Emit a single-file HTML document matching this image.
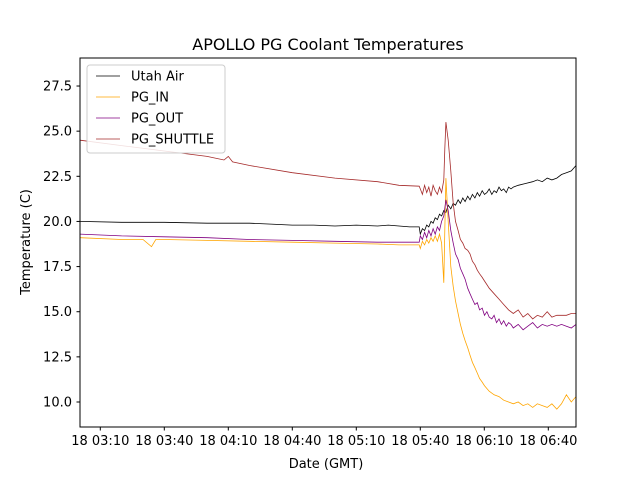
<!DOCTYPE html>
<html><head><meta charset="utf-8"><style>
body{margin:0;background:#fff}
svg{display:block;font-family:"DejaVu Sans","Liberation Sans",sans-serif}
</style></head><body>
<svg id="chart" width="640" height="480">
<rect width="640" height="480" fill="#fff"/>
<text x="328" y="50" text-anchor="middle" font-size="16">APOLLO PG Coolant Temperatures</text>
<g id="plot"></g>
<rect x="80" y="58" width="496" height="369" fill="none" stroke="#000" stroke-width="1"/>
<g id="xticks"></g><g id="yticks"></g>
<text x="326" y="468" text-anchor="middle" font-size="13">Date (GMT)</text>
<text transform="translate(30,242) rotate(-90)" text-anchor="middle" font-size="13">Temperature (C)</text>
<g id="legend">
<rect x="87" y="65" width="138" height="88" rx="3" fill="#fff" fill-opacity="0.85" stroke="#ccc"/>
</g>
</svg>
<script>
const seriesNames=["Utah Air","PG_IN","PG_OUT","PG_SHUTTLE"];
const seriesColors=["#000000","#ffa500","#800080","#a52a2a"];
const xTickLabels=["18 03:10","18 03:40","18 04:10","18 04:40","18 05:10","18 05:40","18 06:10","18 06:40"];
const xTickMinutes=[10,40,70,100,130,160,190,220];
const yTicks=[10.0,12.5,15.0,17.5,20.0,22.5,25.0,27.5];
// minutes since 03:00
const airT=[0.5,20,40,60,80,90,100,110,120,130,140,145,150,155,159.5,160,161,162,163,164,165,166,167,168,169,170,171,172,173.1,174.3,175.4,176.5,177.7,178.8,179.9,181.0,182.2,183.3,184.4,185.6,186.7,187.8,189.0,190.1,191.2,192.3,193.5,194.6,195.7,196.9,198.0,199.1,200.3,201.4,202.5,203.6,205.9,209.3,212.7,214.9,217.2,219.5,221.7,224.0,226.2,228.5,230.8,233.0];
const airV=[20.0,19.95,19.95,19.9,19.9,19.85,19.8,19.8,19.75,19.8,19.75,19.8,19.75,19.7,19.7,19.3,19.6,19.5,19.8,19.7,20.0,19.9,20.2,20.1,20.4,20.3,20.6,20.5,20.9,20.7,21.0,20.9,21.2,21.0,21.3,21.1,21.4,21.2,21.5,21.3,21.6,21.4,21.7,21.5,21.6,21.8,21.5,21.7,21.6,21.9,21.7,21.8,21.6,21.9,21.8,21.9,22.0,22.1,22.2,22.3,22.2,22.4,22.3,22.4,22.6,22.7,22.8,23.1];
const inT=[0.5,20,30,34,36,40,60,80,100,120,140,150,159.5,160,161,162,163,164,165,166,167,168,169,170,171,171.5,172,173.1,174.3,175.4,176.5,177.7,178.8,179.9,181.0,182.2,183.3,184.4,185.6,186.7,187.8,189.0,190.1,192.3,194.6,196.9,199.1,201.4,203.6,205.9,208.2,210.4,212.7,214.9,217.2,219.5,221.7,224.0,226.2,228.5,230.8,233.0];
const inV=[19.1,19.0,19.0,18.6,19.0,19.0,18.95,18.9,18.85,18.8,18.75,18.7,18.7,18.5,18.9,18.7,19.0,18.8,19.1,18.9,19.2,18.9,19.3,18.8,16.6,19.5,22.4,20.0,17.5,16.4,15.6,14.9,14.3,13.8,13.4,13.0,12.6,12.2,11.9,11.6,11.3,11.1,10.9,10.6,10.4,10.3,10.1,10.0,9.9,10.0,9.8,9.9,9.7,9.9,9.8,9.7,9.9,9.6,9.9,10.4,10.0,10.3];
const outT=[0.5,20,40,60,80,100,120,140,159.5,160,161,162,163,164,165,166,167,168,169,170,171,172,173.1,174.3,175.4,176.5,177.7,178.8,179.9,181.0,182.2,183.3,184.4,185.6,186.7,187.8,189.0,190.1,191.2,192.3,193.5,194.6,195.7,196.9,198.0,199.1,200.3,201.4,202.5,203.6,205.9,208.2,210.4,212.7,214.9,217.2,219.5,221.7,224.0,226.2,228.5,230.8,233.0];
const outV=[19.3,19.2,19.15,19.1,19.0,18.95,18.9,18.85,18.85,19.2,19.0,19.4,19.1,19.5,19.2,19.6,19.3,19.7,19.5,20.0,20.3,21.2,20.6,19.5,18.8,18.2,17.9,17.4,17.1,16.8,16.3,16.0,15.7,15.4,15.5,15.1,15.2,14.8,15.0,14.7,14.6,14.8,14.4,14.6,14.3,14.5,14.2,14.4,14.3,14.1,14.3,14.0,14.2,14.4,14.1,14.3,14.2,14.3,14.2,14.3,14.2,14.1,14.3];
const shT=[0.5,20,40,60,68,70,72,80,100,120,140,150,159.5,160,161,162,163,164,165,166,167,168,169,170,171,171.5,172,173.1,174.3,175.4,176.5,177.7,178.8,179.9,181.0,182.2,183.3,184.4,185.6,186.7,187.8,189.0,190.1,191.2,192.3,194.6,196.9,199.1,201.4,203.6,205.9,208.2,210.4,212.7,214.9,217.2,219.5,221.7,224.0,226.2,228.5,230.8,233.0];
const shV=[24.5,24.2,23.9,23.6,23.4,23.6,23.3,23.1,22.7,22.4,22.2,22.0,21.95,21.8,21.5,22.0,21.6,21.9,21.4,22.0,21.7,21.5,21.9,21.6,22.3,24.0,25.5,24.5,22.8,21.0,20.0,19.5,19.0,18.8,18.5,18.4,18.2,17.8,17.6,17.3,17.1,16.9,16.7,16.5,16.3,16.0,15.7,15.4,15.1,14.9,15.1,14.7,14.9,14.6,14.8,14.7,15.0,14.7,14.8,14.8,14.8,14.9,14.9];
const allT=[airT,inT,outT,shT];
const allV=[airV,inV,outV,shV];

const NS="http://www.w3.org/2000/svg";
function xs(m){return 100.3+(m-10)*64/30;}
function ys(v){return 402-(v-10)*45.14/2.5;}
const plot=document.getElementById('plot');
for(let s=0;s<4;s++){
  const p=document.createElementNS(NS,'polyline');
  p.setAttribute('points',allT[s].map((t,i)=>xs(t).toFixed(1)+','+ys(allV[s][i]).toFixed(1)).join(' '));
  p.setAttribute('fill','none');p.setAttribute('stroke',seriesColors[s]);p.setAttribute('stroke-width','0.8');
  
  
  plot.appendChild(p);
}
const xt=document.getElementById('xticks');
xTickMinutes.forEach((m,i)=>{
  const x=xs(m);
  const l=document.createElementNS(NS,'line');
  l.setAttribute('x1',x);l.setAttribute('x2',x);l.setAttribute('y1',427);l.setAttribute('y2',430.5);l.setAttribute('stroke','#000');
  
  
  xt.appendChild(l);
  const t=document.createElementNS(NS,'text');
  t.setAttribute('x',x);t.setAttribute('y',445);t.setAttribute('text-anchor','middle');t.setAttribute('font-size','13');
  t.textContent=xTickLabels[i];
  
  
  xt.appendChild(t);
});
const yt=document.getElementById('yticks');
yTicks.forEach(v=>{
  const y=ys(v);
  const l=document.createElementNS(NS,'line');
  l.setAttribute('x1',76.5);l.setAttribute('x2',80);l.setAttribute('y1',y);l.setAttribute('y2',y);l.setAttribute('stroke','#000');
  
  
  yt.appendChild(l);
  const t=document.createElementNS(NS,'text');
  t.setAttribute('x',72);t.setAttribute('y',y+4.5);t.setAttribute('text-anchor','end');t.setAttribute('font-size','13');
  t.textContent=v.toFixed(1);
  
  
  yt.appendChild(t);
});
const lg=document.getElementById('legend');
seriesNames.forEach((n,i)=>{
  const y=76+i*21;
  const l=document.createElementNS(NS,'line');
  l.setAttribute('x1',96);l.setAttribute('x2',120);l.setAttribute('y1',y);l.setAttribute('y2',y);
  l.setAttribute('stroke',seriesColors[i]);l.setAttribute('stroke-width','0.8');
  
  
  lg.appendChild(l);
  const t=document.createElementNS(NS,'text');
  t.setAttribute('x',131);t.setAttribute('y',y+4.5);t.setAttribute('font-size','13');
  t.textContent=n;
  
  
  lg.appendChild(t);
});
</script>
</body></html>
